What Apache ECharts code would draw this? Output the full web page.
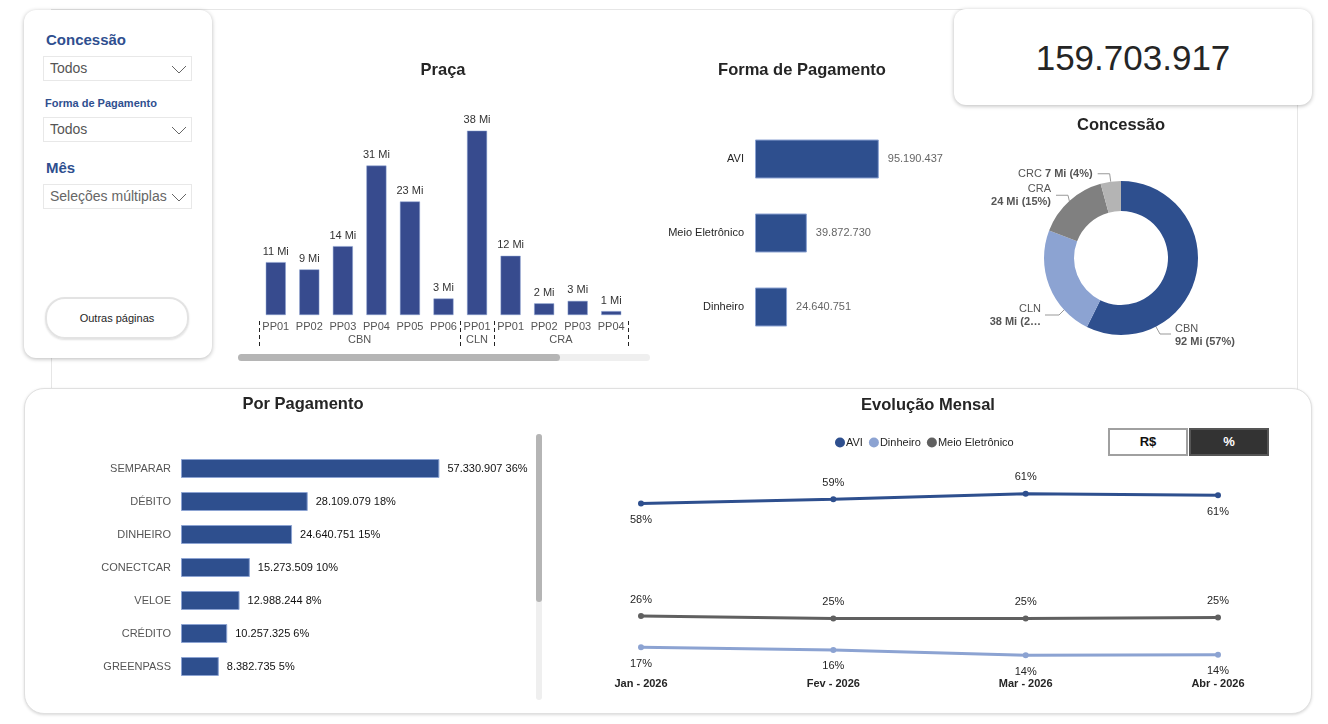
<!DOCTYPE html>
<html>
<head>
<meta charset="utf-8">
<script src="https://cdn.jsdelivr.net/npm/echarts@6/dist/echarts.min.js"></script>
<style>
  body { margin: 0; background: #fff; font-family: "Liberation Sans", Arial, sans-serif; }
  .page { position: relative; width: 1328px; height: 724px; overflow: hidden; }
  .box { position: absolute; background: #fff; }
  .bg-panel { left: 51px; top: 9px; width: 1245px; height: 385px; border: 1px solid #e6e6e6; }
  .slicer { left: 24px; top: 10px; width: 188px; height: 348px; border-radius: 12px; box-shadow: 0 1px 4px rgba(0,0,0,0.28); }
  .kpi { left: 954px; top: 9px; width: 358px; height: 96px; border-radius: 12px; box-shadow: 0 1px 4px rgba(0,0,0,0.28); }
  .bottom { left: 24px; top: 388px; width: 1286px; height: 324px; border-radius: 20px; border: 1px solid #e0e0e0; box-shadow: 0 1px 3px rgba(0,0,0,0.15); }
  .s-title { position: absolute; color: #2f4f8f; font-weight: bold; }
  .dd { position: absolute; width: 141px; height: 23px; border: 1px solid #e8e8e8; color: #555; font-size: 14px; line-height: 23px; padding-left: 6px; }
  .dd svg { position: absolute; right: 4px; top: 8px; }
  .btn { position: absolute; width: 140px; height: 38px; border: 2px solid #e3e3e3; border-radius: 20px; font-size: 11px; color: #252525; text-align: center; line-height: 38px; box-shadow: 0 1px 2px rgba(0,0,0,0.12); }
  .kpi-val { position: absolute; left: 954px; top: 9px; width: 358px; height: 96px; line-height: 98px; text-align: center; font-size: 35px; color: #252525; }
  .track { position: absolute; background: #efefef; border-radius: 4px; }
  .thumb { position: absolute; background: #b5b5b5; border-radius: 4px; }
  .tog { position: absolute; top: 428px; width: 76px; height: 24px; line-height: 24px; text-align: center; font-weight: bold; font-size: 13px; }
  #chart { position: absolute; left: 0; top: 0; width: 1328px; height: 724px; z-index: 5; }
</style>
</head>
<body>
<div class="page">
  <div class="box bg-panel"></div>
  <div class="box bottom"></div>
  <div class="box slicer">
    <div class="s-title" style="left:22px;top:21px;font-size:15px;">Concessão</div>
    <div class="dd" style="top:46px;left:19px;">Todos<svg width="16" height="9"><polyline points="1,1 8,8 15,1" fill="none" stroke="#666" stroke-width="1"/></svg></div>
    <div class="s-title" style="left:21px;top:87px;font-size:11px;">Forma de Pagamento</div>
    <div class="dd" style="top:107px;left:19px;">Todos<svg width="16" height="9"><polyline points="1,1 8,8 15,1" fill="none" stroke="#666" stroke-width="1"/></svg></div>
    <div class="s-title" style="left:22px;top:149px;font-size:15px;">Mês</div>
    <div class="dd" style="top:174px;left:19px;color:#666;">Seleções múltiplas<svg width="16" height="9"><polyline points="1,1 8,8 15,1" fill="none" stroke="#666" stroke-width="1"/></svg></div>
    <div class="btn" style="left:21px;top:287px;">Outras páginas</div>
  </div>
  <div class="box kpi"></div>
  <div class="kpi-val">159.703.917</div>

  <div class="track" style="left:238px;top:354px;width:412px;height:7px;"></div>
  <div class="thumb" style="left:238px;top:354px;width:322px;height:7px;"></div>

  <div class="track" style="left:536px;top:434px;width:6px;height:266px;"></div>
  <div class="thumb" style="left:536px;top:434px;width:6px;height:168px;"></div>

  <div class="tog" style="left:1108px;border:2px solid #a0a0a0;background:#fff;color:#111;">R$</div>
  <div class="tog" style="left:1189px;border:2px solid #555;background:#333;color:#fff;">%</div>

  <div id="chart"></div>
</div>
<script>
// Praça (em milhões)
const pracaGroups = ['CBN', 'CBN', 'CBN', 'CBN', 'CBN', 'CBN', 'CLN', 'CRA', 'CRA', 'CRA', 'CRA']
const pracaNames = ['PP01', 'PP02', 'PP03', 'PP04', 'PP05', 'PP06', 'PP01', 'PP01', 'PP02', 'PP03', 'PP04']
const pracaValues = [10.9, 9.4, 14.2, 30.8, 23.4, 3.4, 38.0, 12.2, 2.4, 2.9, 0.8]

// Forma de Pagamento
const formaNames = ['AVI', 'Meio Eletrônico', 'Dinheiro']
const formaValues = [95190437, 39872730, 24640751]

// Concessão (em milhões)
const concNames = ['CBN', 'CLN', 'CRA', 'CRC']
const concValues = [91.5, 37.6, 23.8, 6.8]

// Por Pagamento
const pagNames = ['SEMPARAR', 'DÉBITO', 'DINHEIRO', 'CONECTCAR', 'VELOE', 'CRÉDITO', 'GREENPASS']
const pagValues = [57330907, 28109079, 24640751, 15273509, 12988244, 10257325, 8382735]
const total = 159703917

// Evolução Mensal (%)
const months = ['Jan - 2026', 'Fev - 2026', 'Mar - 2026', 'Abr - 2026']
const aviPct = [58.2, 59.4, 61.0, 60.6]
const dinheiroPct = [16.6, 15.8, 14.3, 14.4]
const meioPct = [25.6, 24.9, 24.9, 25.2]

const BLUE = '#2e4f8e'
const LIGHT = '#8ca3d2'
const FONT = '"Liberation Sans", Arial, sans-serif'

function fmt(v) {
  return String(v).replace(/\B(?=(\d{3})+(?!\d))/g, '.')
}

// group spans for the two-level axis
const groupSpans = []
pracaGroups.forEach((g, i) => {
  const last = groupSpans[groupSpans.length - 1]
  if (last && last.name === g) last.end = i
  else groupSpans.push({ name: g, start: i, end: i })
})
const groupCenters = groupSpans.map(s => (s.start + s.end) / 2)
const groupEdges = groupSpans.map(s => s.start - 0.5).concat([pracaNames.length - 0.5])

const chart = echarts.init(document.getElementById('chart'))

const titleStyle = { fontSize: 16.5, fontWeight: 'bold', color: '#252525', fontFamily: FONT }

const option = {
  backgroundColor: 'transparent',
  animation: false,
  textStyle: { fontFamily: FONT },
  title: [
    { text: 'Praça', left: 443, top: 62, padding: 0, textAlign: 'center', textStyle: titleStyle },
    { text: 'Forma de Pagamento', left: 802, top: 62, padding: 0, textAlign: 'center', textStyle: titleStyle },
    { text: 'Concessão', left: 1121, top: 117, padding: 0, textAlign: 'center', textStyle: titleStyle },
    { text: 'Por Pagamento', left: 303, top: 396, padding: 0, textAlign: 'center', textStyle: titleStyle },
    { text: 'Evolução Mensal', left: 928, top: 397, padding: 0, textAlign: 'center', textStyle: titleStyle }
  ],
  legend: {
    data: ['AVI', 'Dinheiro', 'Meio Eletrônico'],
    left: 830,
    top: 432,
    icon: 'circle',
    itemWidth: 10,
    itemHeight: 10,
    itemGap: 6,
    textStyle: { fontSize: 11, color: '#252525', padding: [0, 0, 0, -4] }
  },
  grid: [
    { left: 259, width: 369, top: 121, height: 194 },
    { left: 755, width: 160, top: 122, height: 222 },
    { left: 181, width: 311, top: 452, height: 231 },
    { left: 641, width: 577, top: 480, height: 190 }
  ],
  xAxis: [
    {
      type: 'category',
      gridIndex: 0,
      data: pracaNames.map((n, i) => pracaGroups[i] + '|' + n),
      axisLine: { show: false },
      axisTick: { show: false },
      axisLabel: {
        interval: 0,
        margin: 6,
        fontSize: 11,
        color: '#555',
        formatter: v => v.split('|')[1]
      }
    },
    {
      type: 'value',
      gridIndex: 0,
      position: 'bottom',
      offset: 6,
      min: -0.5,
      max: pracaNames.length - 0.5,
      axisLine: { show: false },
      splitLine: { show: false },
      axisTick: {
        show: true,
        customValues: groupEdges,
        length: 27,
        lineStyle: { color: '#222', type: [4, 3], width: 1 }
      },
      axisLabel: {
        customValues: groupCenters,
        margin: 13,
        fontSize: 11,
        color: '#555',
        formatter: v => {
          const k = groupCenters.indexOf(v)
          return k >= 0 ? groupSpans[k].name : ''
        }
      }
    },
    { type: 'value', gridIndex: 1, min: 0, max: 123000000, show: false },
    { type: 'value', gridIndex: 2, min: 0, max: 69000000, show: false },
    {
      type: 'category',
      gridIndex: 3,
      data: months,
      boundaryGap: false,
      axisLine: { show: false },
      axisTick: { show: false },
      axisLabel: { margin: 8, fontSize: 11, color: '#252525', fontWeight: 'bold' }
    }
  ],
  yAxis: [
    { type: 'value', gridIndex: 0, min: 0, max: 40, show: false },
    {
      type: 'category',
      gridIndex: 1,
      data: formaNames,
      inverse: true,
      axisLine: { show: false },
      axisTick: { show: false },
      axisLabel: { margin: 11, fontSize: 11, color: '#252525' }
    },
    {
      type: 'category',
      gridIndex: 2,
      data: pagNames,
      inverse: true,
      axisLine: { show: false },
      axisTick: { show: false },
      axisLabel: { margin: 10, fontSize: 11, color: '#555' }
    },
    { type: 'value', gridIndex: 3, min: 10, max: 65, show: false }
  ],
  series: [
    {
      name: 'Praça',
      type: 'bar',
      xAxisIndex: 0,
      yAxisIndex: 0,
      data: pracaValues,
      barWidth: 20,
      itemStyle: { color: '#374b8e', borderColor: '#8ca3d2', borderWidth: 0.5 },
      label: {
        show: true,
        position: 'top',
        distance: 5,
        fontSize: 11,
        color: '#333',
        formatter: p => Math.round(p.value) + ' Mi'
      }
    },
    {
      name: 'Forma de Pagamento',
      type: 'bar',
      xAxisIndex: 2,
      yAxisIndex: 1,
      data: formaValues,
      barWidth: 39,
      itemStyle: { color: BLUE, borderColor: LIGHT, borderWidth: 1 },
      label: {
        show: true,
        position: 'right',
        distance: 9,
        fontSize: 11,
        color: '#666',
        formatter: p => fmt(p.value)
      }
    },
    {
      name: 'Concessão',
      type: 'pie',
      center: [1121, 258],
      radius: [47, 77],
      startAngle: 90,
      clockwise: true,
      color: [BLUE, LIGHT, '#808080', '#b4b4b4'],
      data: concNames.map((n, i) => {
        const item = { name: n, value: concValues[i] }
        if (n === 'CLN') item.label = { width: 58, overflow: 'truncate', ellipsis: '…' }
        return item
      }),
      label: {
        show: true,
        position: 'outside',
        fontSize: 11,
        lineHeight: 13,
        color: '#555',
        formatter: p => {
          const txt = Math.round(p.value) + ' Mi (' + Math.round(p.percent) + '%)'
          return p.name === 'CRC' ? p.name + ' {v|' + txt + '}' : p.name + '\n{v|' + txt + '}'
        },
        rich: { v: { fontWeight: 'bold', fontSize: 11, color: '#555' } }
      },
      labelLine: { length: 8, length2: 12, lineStyle: { color: '#999', width: 1 } },
      // Power BI places the two large slices' labels lower than ECharts would
      labelLayout: p => {
        if (p.dataIndex === 0) {
          return {
            x: 1175, y: 335, align: 'left', verticalAlign: 'middle',
            labelLinePoints: [[1155, 325], [1160, 334], [1171, 334]]
          }
        }
        if (p.dataIndex === 1) {
          return {
            x: 1041, y: 315, align: 'right', verticalAlign: 'middle',
            labelLinePoints: [[1067, 307], [1059, 315], [1045, 315]]
          }
        }
      }
    },
    {
      name: 'Por Pagamento',
      type: 'bar',
      xAxisIndex: 3,
      yAxisIndex: 2,
      data: pagValues,
      barWidth: 19,
      itemStyle: { color: BLUE, borderColor: LIGHT, borderWidth: 1 },
      label: {
        show: true,
        position: 'right',
        distance: 8,
        fontSize: 11,
        color: '#111',
        formatter: p => fmt(p.value) + ' ' + Math.round(p.value / total * 100) + '%'
      }
    },
    {
      name: 'AVI',
      type: 'line',
      xAxisIndex: 4,
      yAxisIndex: 3,
      data: aviPct.map((v, i) => ({ value: v, label: { position: ['bottom', 'top', 'top', 'bottom'][i] } })),
      color: BLUE,
      lineStyle: { width: 3 },
      symbol: 'circle',
      symbolSize: 6,
      label: { show: true, distance: 8, fontSize: 11, color: '#252525', formatter: p => Math.round(p.value) + '%' }
    },
    {
      name: 'Dinheiro',
      type: 'line',
      xAxisIndex: 4,
      yAxisIndex: 3,
      data: dinheiroPct,
      color: LIGHT,
      lineStyle: { width: 3 },
      symbol: 'circle',
      symbolSize: 6,
      label: { show: true, position: 'bottom', distance: 8, fontSize: 11, color: '#252525', formatter: p => Math.round(p.value) + '%' }
    },
    {
      name: 'Meio Eletrônico',
      type: 'line',
      xAxisIndex: 4,
      yAxisIndex: 3,
      data: meioPct,
      color: '#606060',
      lineStyle: { width: 3 },
      symbol: 'circle',
      symbolSize: 6,
      label: { show: true, position: 'top', distance: 8, fontSize: 11, color: '#252525', formatter: p => Math.round(p.value) + '%' }
    }
  ]
}

chart.setOption(option)
</script>
</body>
</html>
